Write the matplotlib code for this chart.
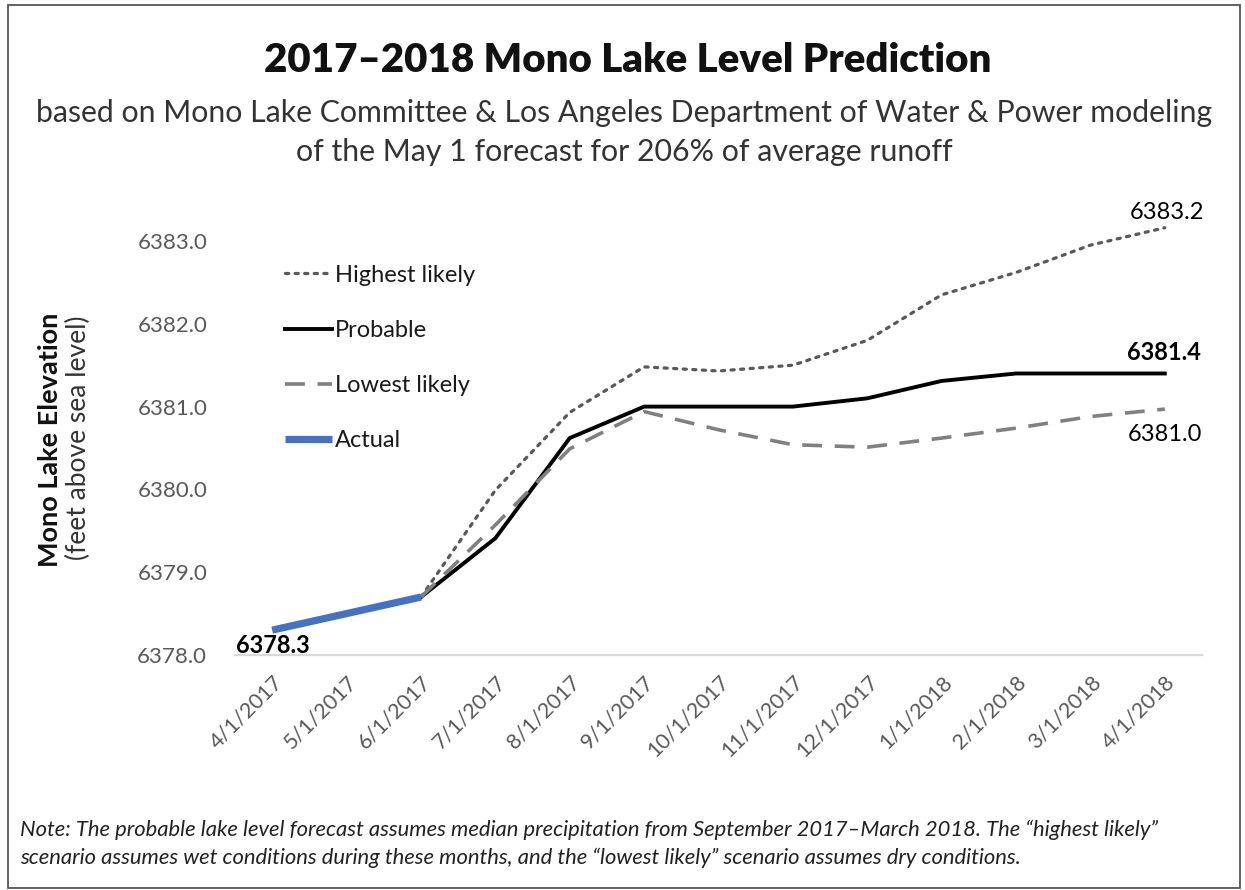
import numpy as np
import matplotlib
matplotlib.use("Agg")
import matplotlib.pyplot as plt
from matplotlib.transforms import ScaledTranslation

dates = ["4/1/2017", "5/1/2017", "6/1/2017", "7/1/2017", "8/1/2017", "9/1/2017",
         "10/1/2017", "11/1/2017", "12/1/2017", "1/1/2018", "2/1/2018", "3/1/2018", "4/1/2018"]
nan = np.nan
actual = [6378.3, 6378.5, 6378.7, nan, nan, nan, nan, nan, nan, nan, nan, nan, nan]
highest = [nan, nan, 6378.7, 6379.99, 6380.93, 6381.48, 6381.43, 6381.5, 6381.8, 6382.35, 6382.62, 6382.95, 6383.16]
probable = [nan, nan, 6378.7, 6379.41, 6380.62, 6381.0, 6381.0, 6381.0, 6381.1, 6381.31, 6381.4, 6381.4, 6381.4]
lowest = [nan, nan, 6378.7, 6379.57, 6380.49, 6380.94, 6380.72, 6380.54, 6380.51, 6380.62, 6380.74, 6380.88, 6380.97]
yticks = [6378.0, 6379.0, 6380.0, 6381.0, 6382.0, 6383.0]

W, H = 1245, 890
fig = plt.figure(figsize=(W / 100, H / 100), dpi=100)
fig.patch.set_facecolor("white")

frame = plt.Rectangle((8 / W, 2 / H), (1240 - 8) / W, (885 - 2) / H, transform=fig.transFigure,
                      fill=False, edgecolor="#555555", linewidth=1.3)
fig.add_artist(frame)

ax = fig.add_axes([235 / W, 1 - 655 / H, (1202 - 235) / W, (655 - 195) / H])
x = np.arange(len(dates))

ax.plot(x, highest, color="#595959", lw=2.3, linestyle=(0, (1, 2)), dash_capstyle="round",
        label="Highest likely")
ax.plot(x, probable, color="black", lw=2.8, label="Probable", solid_joinstyle="round")
ax.plot(x, lowest, color="#808080", lw=2.6, linestyle=(0, (5.5, 3.5)), label="Lowest likely")
ax.plot(x, actual, color="#4472C4", lw=5.2, label="Actual", solid_capstyle="butt")

ax.set_xlim(-0.5, len(dates) - 0.5)
ax.set_ylim(6378.0, 6378.0 + (655 - 195) / 82.8)
ax.set_yticks(yticks)
ax.set_yticklabels([f"{v:.1f}" for v in yticks], fontsize=16, color="#595959", family="Lato")
ax.set_xticks(x)
ax.set_xticklabels(dates, rotation=45, ha="right", va="top", rotation_mode="anchor",
                   fontsize=15.5, color="#595959", family="Lato")
off = ScaledTranslation(9 / 72, 0, fig.dpi_scale_trans)
for lbl in ax.get_xticklabels():
    lbl.set_transform(lbl.get_transform() + off)
ax.tick_params(axis="both", length=0)
ax.tick_params(axis="y", pad=20)
ax.tick_params(axis="x", pad=12)
for s in ["top", "right", "left"]:
    ax.spines[s].set_visible(False)
ax.spines["bottom"].set_color("#d9d9d9")
ax.spines["bottom"].set_linewidth(1.6)

leg = ax.legend(loc="upper left", bbox_to_anchor=(0.03, 0.895), frameon=False,
                handlelength=2.0, handletextpad=0.1, labelspacing=1.45,
                prop={"family": "Lato", "size": 17})
for t in leg.get_texts():
    t.set_color("#1a1a1a")

ax.annotate(f"{actual[0]:.1f}", (x[0], actual[0]), xytext=(-26, -11), textcoords="offset points",
            ha="left", va="center", fontsize=17, fontweight="bold", family="Lato")
ax.annotate(f"{probable[-1]:.1f}", (x[-1], probable[-1]), xytext=(-27, 15), textcoords="offset points",
            ha="left", va="center", fontsize=17, fontweight="bold", family="Lato")
ax.annotate(f"{lowest[-1]:.1f}", (x[-1], lowest[-1]), xytext=(-27, -18), textcoords="offset points",
            ha="left", va="center", fontsize=17, family="Lato")
ax.annotate(f"{highest[-1]:.1f}", (x[-1], highest[-1]), xytext=(-25, 11), textcoords="offset points",
            ha="left", va="center", fontsize=17, family="Lato")

fig.text(628 / W, 1 - 60 / H, "2017\u20132018 Mono Lake Level Prediction", ha="center", va="center",
         fontsize=29, fontweight="heavy", family="Lato", color="#111111")
fig.text(624 / W, 1 - 113 / H, "based on Mono Lake Committee & Los Angeles Department of Water & Power modeling",
         ha="center", va="center", fontsize=21.8, fontweight="normal", family="Lato", color="#333333")
fig.text(624 / W, 1 - 152 / H, "of the May 1 forecast for 206% of average runoff",
         ha="center", va="center", fontsize=21.8, fontweight="normal", family="Lato", color="#333333")

fig.text(50 / W, 1 - 440 / H, "Mono Lake Elevation", rotation=90, ha="center", va="center",
         fontsize=19.5, fontweight="bold", family="Lato", color="#111111")
fig.text(78 / W, 1 - 438 / H, "(feet above sea level)", rotation=90, ha="center", va="center",
         fontsize=19, fontweight="normal", family="Lato", color="#333333")

fig.text(20 / W, 1 - 830 / H,
         "Note: The probable lake level forecast assumes median precipitation from September 2017\u2013March 2018. The \u201chighest likely\u201d",
         ha="left", va="center", fontsize=15.8, style="italic", family="Lato", color="#222222")
fig.text(20 / W, 1 - 858 / H,
         "scenario assumes wet conditions during these months, and the \u201clowest likely\u201d scenario assumes dry conditions.",
         ha="left", va="center", fontsize=15.8, style="italic", family="Lato", color="#222222")

fig.savefig("out.png", dpi=100, facecolor="white")
